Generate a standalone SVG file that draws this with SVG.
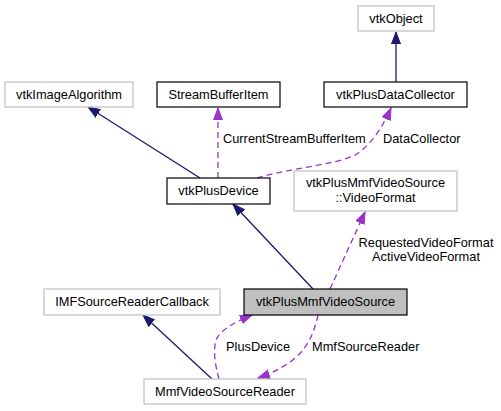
<svg xmlns="http://www.w3.org/2000/svg" width="501" height="411" viewBox="0 0 501 411">
<style>
text{font-family:"Liberation Sans",Arial,sans-serif;font-size:12.8px;fill:#000}
.n{text-anchor:middle}
.g{fill:#fff;stroke:#bfbfbf;stroke-width:1.2}
.b{fill:#fff;stroke:#000;stroke-width:1.2}
.inh{fill:none;stroke:#191970;stroke-width:1.3}
.use{fill:none;stroke:#9a32cd;stroke-width:1.3;stroke-dasharray:6,4}
</style>
<defs>
<marker id="ab" markerUnits="userSpaceOnUse" markerWidth="14" markerHeight="12" refX="12" refY="5" orient="auto"><path d="M0,0.5 L12,5 L0,9.5 z" fill="#191970" stroke="#191970"/></marker>
<marker id="ap" markerUnits="userSpaceOnUse" markerWidth="14" markerHeight="12" refX="12" refY="5" orient="auto"><path d="M0,0.5 L12,5 L0,9.5 z" fill="#9a32cd" stroke="#9a32cd"/></marker>
</defs>
<rect width="501" height="411" fill="#fff"/>
<g id="edges">
<path class="inh" d="M396,82 L396,32" marker-end="url(#ab)"/>
<path class="inh" d="M200,178 L88,107" marker-end="url(#ab)"/>
<path class="use" d="M218,178 L218,108" marker-end="url(#ap)"/>
<path class="use" d="M257,178 C290,168 335,165 355,155 C372,145 384,124 391,108" marker-end="url(#ap)"/>
<path class="inh" d="M313,289 L233,204" marker-end="url(#ab)"/>
<path class="use" d="M330,289 L365,212" marker-end="url(#ap)"/>
<path class="inh" d="M212,379 L143,315" marker-end="url(#ab)"/>
<path class="use" d="M219,379 C215,365 213,350 216,340 C220,330 235,322 252,315" marker-end="url(#ap)"/>
<path class="use" d="M318,315 C314,335 305,352 290,362 C280,369 270,374 258,378" marker-end="url(#ap)"/>
<text x="223" y="143">CurrentStreamBufferItem</text>
<text x="383" y="143">DataCollector</text>
<text class="n" x="426" y="247">RequestedVideoFormat</text>
<text class="n" x="426" y="261">ActiveVideoFormat</text>
<text x="226" y="351">PlusDevice</text>
<text x="312" y="351">MmfSourceReader</text>
</g>
<g id="vtkObject"><rect class="g" x="358" y="6" width="76" height="25"/><text class="n" x="396" y="22.5">vtkObject</text></g>
<g id="vtkImageAlgorithm"><rect class="g" x="5" y="82" width="128" height="25"/><text class="n" x="69" y="99">vtkImageAlgorithm</text></g>
<g id="StreamBufferItem"><rect class="b" x="157" y="82" width="123" height="25"/><text class="n" x="218.5" y="99">StreamBufferItem</text></g>
<g id="vtkPlusDataCollector"><rect class="b" x="324" y="82" width="143" height="25"/><text class="n" x="395.5" y="99">vtkPlusDataCollector</text></g>
<g id="vtkPlusDevice"><rect class="b" x="167" y="178" width="103" height="26"/><text class="n" x="218.5" y="195">vtkPlusDevice</text></g>
<g id="VideoFormat"><rect class="g" x="294" y="171" width="163" height="40"/><text class="n" x="375.5" y="187">vtkPlusMmfVideoSource</text><text class="n" x="375.5" y="202">::VideoFormat</text></g>
<g id="vtkPlusMmfVideoSource"><rect x="244" y="289" width="163" height="26" fill="#bfbfbf" stroke="#000" stroke-width="1.2"/><text class="n" x="325.5" y="306">vtkPlusMmfVideoSource</text></g>
<g id="IMFSourceReaderCallback"><rect class="g" x="44" y="289" width="176" height="26"/><text class="n" x="132" y="306">IMFSourceReaderCallback</text></g>
<g id="MmfVideoSourceReader"><rect class="g" x="144" y="379" width="162" height="25"/><text class="n" x="225" y="396">MmfVideoSourceReader</text></g>
</svg>
